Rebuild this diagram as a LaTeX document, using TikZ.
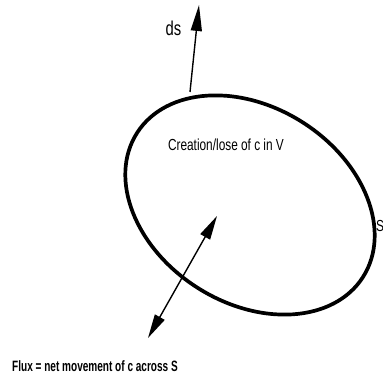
\documentclass[tikz,border=0pt]{standalone}
\usepackage{fontspec}
\setmainfont{Liberation Sans}
\newfontfamily\narrowsf[FakeStretch=0.74]{Liberation Sans}
\newfontfamily\narrowbf[FakeStretch=0.67]{Liberation Sans Bold}
\usetikzlibrary{arrows.meta}

\tikzset{
  surface/.style={line width=3.7pt},
  vec/.style={line width=1.4pt, -{Triangle[length=26pt, width=11pt]}},
  dvec/.style={line width=1.4pt, {Triangle[length=24pt, width=11pt]}-{Triangle[length=24pt, width=11pt]}},
  lbl/.style={font=\narrowsf\fontsize{16}{18}\selectfont, inner sep=0pt}
}

\begin{document}
\begin{tikzpicture}[x=1pt, y=1pt]
    \useasboundingbox (0,0) rectangle (383,379);

    % Control surface
    \draw[surface] (250,174) ellipse[x radius=134, y radius=98, rotate=-32.5];
    \node[lbl] (vol) at (226,234) {Creation/lose of c in V};
    \node[lbl, anchor=west] (surf) at (376,153) {S};

    % Normal vector
    \coordinate (base) at (190,287);
    \coordinate (tip) at (199,374);
    \draw[vec] (base) -- (tip);
    \node[lbl, font=\narrowsf\fontsize{20}{22}\selectfont] (ds) at (173.5,351) {ds};

    % Flux
    \coordinate (in) at (217,163);
    \coordinate (out) at (148,41);
    \draw[dvec] (out) -- (in);
    \node[lbl, font=\narrowbf\fontsize{15}{17}\selectfont] (flux) at (95,13) {Flux = net movement of c across S};
\end{tikzpicture}
\end{document}
